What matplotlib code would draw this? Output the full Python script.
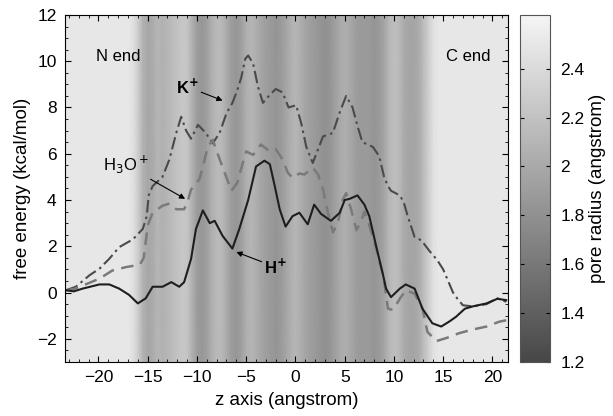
import matplotlib.pyplot as plt
from matplotlib.colors import LinearSegmentedColormap
from matplotlib.ticker import AutoMinorLocator
import numpy as np

plt.rcParams['font.family'] = ['Liberation Sans', 'DejaVu Sans']

# pore radius profile along z (background)
pore_z = [-23.5, -17.0, -16.5, -16.0, -15.5, -15.0, -14.5, -14.0, -13.5, -13.0, -12.5,
          -12.0, -11.5, -11.0, -10.5, -10.0, -9.5, -9.0, -8.5, -8.0, -7.5, -7.0,
          -6.5, -6.0, -5.5, -5.0, -4.5, -4.0, -3.5, -3.0, -2.5, -2.0, -1.5, -1.0,
          -0.5, 0.0, 0.5, 1.0, 1.5, 2.0, 2.5, 3.0, 3.5, 4.0, 4.5, 5.0, 5.5, 6.0,
          6.5, 7.0, 7.5, 8.0, 8.5, 9.0, 9.5, 10.0, 10.5, 11.0, 11.5, 12.0, 12.5,
          13.0, 13.5, 14.0, 14.5, 21.7]
pore_r = [2.5, 2.5, 2.45, 2.3, 2.08, 1.98, 2.02, 2.1, 2.07, 2.1, 2.15,
          2.2, 2.24, 2.23, 2.07, 1.9, 1.85, 1.92, 2.05, 2.13, 2.13, 2.02,
          1.9, 1.85, 1.92, 2.05, 2.1, 2.05, 1.97, 1.92, 1.88, 1.84, 1.88, 1.96,
          2.05, 2.1, 2.05, 1.97, 1.92, 1.88, 1.84, 1.8, 1.84, 1.92, 2.0, 2.05, 2.0, 1.93,
          1.88, 1.88, 1.88, 1.84, 1.88, 1.96, 2.1, 2.18, 2.14, 2.02, 1.97, 1.97, 2.02,
          2.15, 2.3, 2.45, 2.5, 2.5]

# K+ free energy
k_z = [-23.3, -22.3, -20.9, -19.9, -18.9, -17.9, -16.5, -15.5, -15.1, -14.9, -14.5,
       -13.5, -12.8, -12.1, -11.6, -11.1, -10.6, -9.9, -9.1, -8.4, -7.7, -7.0,
       -6.4, -5.9, -5.5, -5.1, -4.8, -4.3, -3.8, -3.3, -2.6, -2.0, -1.3, -0.7,
       0.07, 0.6, 1.1, 1.76, 2.3, 2.8, 3.8, 4.5, 5.15, 5.8, 6.3, 6.8, 7.85, 8.5,
       9.0, 9.4, 9.7, 10.6, 11.0, 11.4, 12.1, 12.8, 13.6, 14.4, 15.0, 15.6, 16.0,
       16.5, 17.0, 18.0, 19.4, 20.5, 21.4]
k_e = [0.1, 0.25, 0.75, 1.03, 1.46, 1.96, 2.3, 2.75, 3.3, 4.2, 4.6,
       5.0, 5.75, 6.9, 7.6, 7.0, 6.65, 7.25, 6.9, 6.45, 6.9, 7.75,
       8.2, 8.75, 9.3, 10.1, 10.25, 9.9, 8.9, 8.2, 8.55, 8.8, 8.65, 8.0,
       8.1, 7.3, 6.3, 5.6, 6.2, 6.75, 6.9, 7.8, 8.5, 8.0, 7.2, 6.5, 6.3, 5.9,
       5.0, 4.6, 4.4, 4.2, 3.9, 3.3, 2.4, 2.25, 1.8, 1.4, 1.0, 0.4, 0.0,
       -0.3, -0.55, -0.6, -0.5, -0.25, -0.4]

# H3O+ free energy
h3o_z = [-23.3, -22.5, -21.6, -19.9, -18.6, -17.2, -15.8, -15.4, -15.0, -14.5, -13.5,
         -12.8, -12.1, -11.3, -10.9, -10.6, -9.75, -9.4, -8.9, -8.4, -7.9, -7.2,
         -6.5, -5.9, -5.35, -5.0, -4.3, -3.5, -2.6, -2.0, -1.3, -0.8, -0.3, 0.4,
         0.9, 1.76, 2.3, 2.8, 3.3, 3.8, 4.3, 4.8, 5.15, 5.65, 6.2, 6.7, 7.0, 7.5,
         8.2, 8.9, 9.4, 9.9, 10.6, 11.2, 12.1, 12.9, 13.4, 14.3, 15.3, 16.6, 18.0,
         19.4, 20.7, 21.4]
h3o_e = [0.1, 0.15, 0.3, 0.6, 0.95, 1.1, 1.2, 1.5, 2.9, 3.45, 3.75,
         3.85, 3.6, 3.6, 4.0, 4.45, 4.9, 5.45, 6.3, 6.6, 6.0, 5.2,
         4.4, 4.75, 5.6, 6.1, 5.95, 6.4, 6.1, 6.2, 5.75, 5.2, 4.95, 5.15,
         5.1, 5.4, 5.1, 4.45, 3.45, 2.6, 3.0, 4.0, 4.3, 3.6, 2.7, 3.1, 3.5, 2.9,
         1.9, 0.75, -0.7, -0.75, -0.27, 0.1, -0.05, -0.7, -1.7, -2.1, -1.97, -1.76, -1.6,
         -1.47, -1.26, -1.2]

# H+ free energy
h_z = [-23.3, -22.5, -21.6, -19.9, -18.9, -17.9, -16.9, -16.0, -15.2, -14.5, -13.5,
       -12.6, -11.8, -11.3, -10.6, -10.1, -9.4, -8.7, -8.2, -7.4, -6.4, -5.7,
       -4.8, -4.0, -3.15, -2.6, -2.1, -1.6, -1.0, -0.3, 0.4, 1.25, 1.9, 2.6,
       3.6, 4.5, 5.0, 5.5, 6.3, 7.0, 7.5, 8.2, 8.9, 9.2, 9.7, 10.6, 11.2, 12.1,
       12.9, 13.9, 14.8, 15.6, 16.3, 17.2, 18.0, 19.4, 20.5, 21.4]
h_e = [0.1, 0.05, 0.17, 0.35, 0.35, 0.17, -0.1, -0.47, -0.25, 0.25, 0.25,
       0.45, 0.25, 0.45, 1.45, 2.75, 3.55, 3.0, 3.1, 2.45, 1.9, 2.75,
       4.0, 5.45, 5.7, 5.55, 4.6, 3.6, 2.85, 3.3, 3.45, 2.95, 3.8, 3.4,
       3.1, 3.45, 4.0, 4.05, 4.2, 3.8, 3.3, 2.0, 0.75, 0.17, -0.2, 0.17, 0.35, 0.17,
       -0.7, -1.33, -1.47, -1.26, -1.05, -0.7, -0.6, -0.47, -0.27, -0.33]

cmap = LinearSegmentedColormap.from_list('pore', ['#474747', '#f5f5f5'])

fig = plt.figure(figsize=(6.13, 4.16), dpi=100)
ax = fig.add_axes([0.106, 0.130, 0.723, 0.834])
cax = fig.add_axes([0.848, 0.130, 0.050, 0.834])

zz, yy = np.meshgrid(pore_z, [-3, 12])
rr = np.vstack([pore_r, pore_r])
bg = ax.pcolormesh(zz, yy, rr, cmap=cmap, vmin=1.2, vmax=2.62, shading='gouraud')

ax.plot(k_z, k_e, color='#4a4a4a', lw=1.5, ls=(0, (6, 2, 1.2, 2)))
ax.plot(h3o_z, h3o_e, color='#7a7a7a', lw=1.8, ls=(0, (5, 3)))
ax.plot(h_z, h_e, color='#1e1e1e', lw=1.5)

ax.set_xlim(-23.4, 21.6)
ax.set_ylim(-3, 12)
ax.set_xticks([-20, -15, -10, -5, 0, 5, 10, 15, 20])
ax.set_yticks([-2, 0, 2, 4, 6, 8, 10, 12])
ax.xaxis.set_minor_locator(AutoMinorLocator(5))
ax.yaxis.set_minor_locator(AutoMinorLocator(4))
ax.tick_params(which='both', direction='in', top=True, right=True, labelsize=12.5)
ax.tick_params(which='major', length=4, pad=6)
ax.tick_params(which='minor', length=2)
ax.set_xlabel('z axis (angstrom)', fontsize=13.5, labelpad=5)
ax.set_ylabel('free energy (kcal/mol)', fontsize=13.5)

ax.text(-20.2, 10.2, 'N end', fontsize=12, va='center')
ax.text(19.8, 10.2, 'C end', fontsize=12, va='center', ha='right')

arrow = dict(arrowstyle='-|>', color='black', lw=0.8, mutation_scale=8, shrinkA=0, shrinkB=0)
ax.annotate('K$^{\\mathbf{+}}$', xy=(-7.4, 8.3), xytext=(-11.0, 8.9), fontsize=12,
            fontweight='bold', ha='center', va='center', arrowprops=arrow)
ax.annotate('H$_3$O$^+$', xy=(-11.2, 4.05), xytext=(-17.2, 5.5), fontsize=12,
            ha='center', va='center', arrowprops=arrow)
ax.annotate('H$^{\\mathbf{+}}$', xy=(-6.0, 1.75), xytext=(-2.0, 1.1), fontsize=12,
            fontweight='bold', ha='center', va='center', arrowprops=arrow)

cb = fig.colorbar(bg, cax=cax)
cb.set_ticks([1.2, 1.4, 1.6, 1.8, 2.0, 2.2, 2.4])
cb.set_ticklabels(['1.2', '1.4', '1.6', '1.8', '2', '2.2', '2.4'])
cax.tick_params(direction='in', left=True, right=True, length=3, labelsize=12.5, pad=7)
cb.set_label('pore radius (angstrom)', fontsize=13.5, labelpad=3)
cb.outline.set_edgecolor('#555555')

fig.savefig('out.png', dpi=100)
